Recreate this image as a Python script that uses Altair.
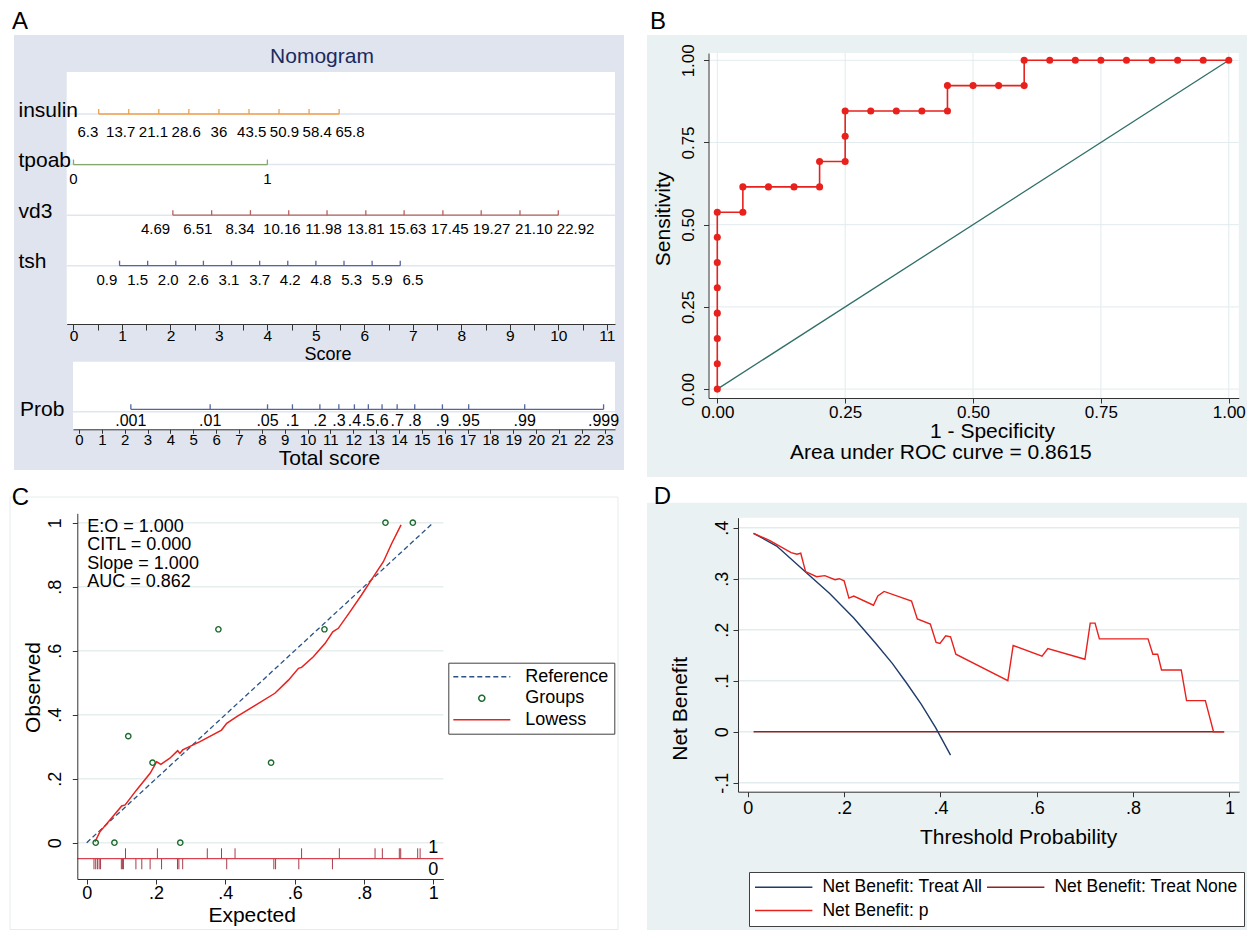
import altair as alt
import pandas as pd

FONT = "Liberation Sans"

# ---------------- Panel A : nomogram ----------------
nomo_vars = ["insulin", "tpoab", "vd3", "tsh"]
insulin_labels = ["6.3", "13.7", "21.1", "28.6", "36", "43.5", "50.9", "58.4", "65.8"]
insulin_points = [0.52, 1.14, 1.76, 2.38, 3.00, 3.62, 4.24, 4.86, 5.48]
tpoab_labels = ["0", "1"]
tpoab_points = [0.0, 4.0]
vd3_labels = ["4.69", "6.51", "8.34", "10.16", "11.98", "13.81", "15.63", "17.45", "19.27", "21.10", "22.92"]
vd3_points = [2.05, 2.85, 3.65, 4.44, 5.23, 6.03, 6.82, 7.62, 8.41, 9.21, 10.0]
tsh_labels = ["0.9", "1.5", "2.0", "2.6", "3.1", "3.7", "4.2", "4.8", "5.3", "5.9", "6.5"]
tsh_points = [0.95, 1.53, 2.11, 2.68, 3.26, 3.84, 4.42, 5.00, 5.58, 6.16, 6.74]
score_ticks = list(range(0, 12))
score_tick_labels = [str(v) for v in score_ticks]
prob_labels = [".001", ".01", ".05", ".1", ".2", ".3", ".4", ".5", ".6", ".7", ".8", ".9", ".95", ".99", ".999"]
prob_points = [2.27, 5.74, 8.25, 9.34, 10.54, 11.37, 12.05, 12.66, 13.26, 13.92, 14.69, 15.90, 17.05, 19.50, 22.95]
total_ticks = list(range(0, 24))
total_tick_labels = [str(v) for v in total_ticks]

# ---------------- Panel B : ROC ----------------
roc_fpr = [0, 0, 0, 0, 0, 0, 0, 0, 0.05, 0.05, 0.10, 0.15, 0.20, 0.20, 0.25, 0.25, 0.25,
           0.30, 0.35, 0.40, 0.45, 0.45, 0.50, 0.55, 0.60, 0.60, 0.65, 0.70, 0.75, 0.80,
           0.85, 0.90, 0.95, 1.00]
roc_tpr = [0, 0.077, 0.154, 0.231, 0.308, 0.385, 0.462, 0.538, 0.538, 0.615, 0.615, 0.615,
           0.615, 0.692, 0.692, 0.769, 0.846, 0.846, 0.846, 0.846, 0.846, 0.923, 0.923, 0.923,
           0.923, 1, 1, 1, 1, 1, 1, 1, 1, 1]
roc_ticks = [0, 0.25, 0.5, 0.75, 1.0]
roc_tick_labels = ["0.00", "0.25", "0.50", "0.75", "1.00"]
roc_auc_text = "Area under ROC curve = 0.8615"

# ---------------- Panel C : calibration ----------------
calib_stats = ["E:O = 1.000", "CITL = 0.000", "Slope = 1.000", "AUC = 0.862"]
group_exp = [0.026, 0.080, 0.120, 0.190, 0.270, 0.380, 0.532, 0.686, 0.862, 0.941]
group_obs = [0.0, 0.0, 0.333, 0.25, 0.0, 0.667, 0.25, 0.667, 1.0, 1.0]
lowess_exp = [0.024, 0.038, 0.067, 0.101, 0.111, 0.144, 0.183, 0.202, 0.214, 0.240, 0.2625,
              0.269, 0.277, 0.327, 0.389, 0.404, 0.433, 0.543, 0.582, 0.611, 0.620, 0.654,
              0.688, 0.710, 0.726, 0.760, 0.793, 0.827, 0.856, 0.880, 0.907]
lowess_obs = [0.003, 0.034, 0.071, 0.115, 0.118, 0.165, 0.217, 0.253, 0.245, 0.264, 0.2875,
              0.279, 0.290, 0.316, 0.352, 0.373, 0.394, 0.467, 0.508, 0.545, 0.548, 0.581,
              0.623, 0.659, 0.670, 0.722, 0.774, 0.831, 0.878, 0.935, 0.993]
rug_events = [0.112, 0.204, 0.348, 0.389, 0.428, 0.620, 0.729, 0.832, 0.853, 0.902, 0.906,
              0.955, 0.962]
rug_nonevents = [0.021, 0.026, 0.031, 0.036, 0.040, 0.100, 0.103, 0.106, 0.142, 0.159, 0.183,
                 0.216, 0.262, 0.266, 0.277, 0.404, 0.540, 0.545, 0.612, 0.709]
calib_ticks = [0, 0.2, 0.4, 0.6, 0.8, 1.0]
calib_tick_labels = ["0", ".2", ".4", ".6", ".8", "1"]
calib_series = ["Reference", "Groups", "Lowess"]

# ---------------- Panel D : decision curve ----------------
all_thr = [0.012, 0.06, 0.12, 0.17, 0.22, 0.265, 0.30, 0.33, 0.36, 0.39, 0.421]
all_nb = [0.389, 0.364, 0.313, 0.271, 0.223, 0.174, 0.134, 0.095, 0.054, 0.008, -0.046]
none_thr = [0.012, 0.989]
none_nb = [0.0, 0.0]
p_thr = [0.012, 0.045, 0.090, 0.102, 0.110, 0.120, 0.143, 0.160, 0.181, 0.190, 0.200, 0.210,
         0.220, 0.261, 0.270, 0.283, 0.340, 0.352, 0.379, 0.391, 0.399, 0.411, 0.421, 0.432,
         0.540, 0.551, 0.611, 0.623, 0.700, 0.711, 0.721, 0.730, 0.831, 0.841, 0.851, 0.859,
         0.900, 0.911, 0.950, 0.967, 0.989]
p_nb = [0.389, 0.375, 0.351, 0.348, 0.350, 0.314, 0.304, 0.306, 0.298, 0.300, 0.296, 0.262,
        0.266, 0.248, 0.266, 0.275, 0.256, 0.221, 0.211, 0.175, 0.173, 0.188, 0.186, 0.152,
        0.100, 0.169, 0.148, 0.163, 0.142, 0.213, 0.213, 0.182, 0.182, 0.152, 0.152, 0.121,
        0.121, 0.061, 0.061, 0.0, 0.0]
dca_series = ["Net Benefit: Treat All", "Net Benefit: Treat None", "Net Benefit: p"]
dca_xticks = [0, 0.2, 0.4, 0.6, 0.8, 1.0]
dca_xtick_labels = ["0", ".2", ".4", ".6", ".8", "1"]
dca_yticks = [-0.1, 0, 0.1, 0.2, 0.3, 0.4]
dca_ytick_labels = ["-.1", "0", ".1", ".2", ".3", ".4"]

# ---------------- styles ----------------
BG_A = "#dfe4ee"
BG_B = "#e9f1f2"
GRID_A = "#e0e5ee"
GRID_B = "#e2ebee"
AXC = "#333333"
RED = "#e8211d"
NOMO_COLORS = ["#f0a04b", "#86a66e", "#b5625e", "#56649f"]
PROB_C = "#56649a"
TEAL = "#2f6f68"
NAVY = "#2b5185"
GREEN = "#1e6b30"
RUG_TICK = "#a83b4a"
RUG_LINE = "#d9434f"
ALL_C = "#1f3b6b"
NONE_C = "#8e2424"

one = pd.DataFrame({"k": [0]})


def lab_expr(values, labels):
    e = "''"
    for v, t in reversed(list(zip(values, labels))):
        e = f"abs(datum.value - ({v})) < 0.000001 ? '{t}' : {e}"
    return e


def box(x1, x2, y1, y2, fill, stroke=None):
    if stroke:
        m = alt.Chart(one).mark_rect(fill=fill, stroke=stroke, strokeWidth=1)
    else:
        m = alt.Chart(one).mark_rect(fill=fill)
    return m.encode(x=alt.value(x1), x2=alt.value(x2), y=alt.value(y1), y2=alt.value(y2))


def note(text, x, y, size, align="left", baseline="middle", color="black", **kw):
    return alt.Chart(one).mark_text(text=text, fontSize=size, align=align, baseline=baseline,
                                    color=color, **kw).encode(x=alt.value(x), y=alt.value(y))


def make_axis(orient, offset, values, labels, title, title_size, label_size, title_x, title_y,
              rotate=False, label_pad=2, tick=5):
    kw = dict(orient=orient, offset=offset, values=values, labelExpr=lab_expr(values, labels),
              grid=False, ticks=True, tickSize=tick, tickColor=AXC, tickWidth=1,
              domainColor=AXC, domainWidth=1, labelColor="black", labelFontSize=label_size,
              labelPadding=label_pad, labelFlush=False, labelOverlap=False,
              title=title, titleFontSize=title_size, titleFontWeight="normal", titleColor="black",
              titleX=title_x, titleY=title_y, titleBaseline="middle", titleAlign="center", zindex=1)
    if rotate:
        kw.update(labelAngle=270, labelAlign="center", labelBaseline="bottom", titleAngle=270)
    return alt.Axis(**kw)


# ======================= Panel A =======================
score_map = dict(zip(score_ticks, score_tick_labels))
score_axis_vals = [i * 0.5 for i in range(2 * len(score_ticks) - 1)]
score_axis_labels = [score_map.get(v, "") for v in score_axis_vals]

sc_score = alt.Scale(domain=[-0.14, 11.17], range=[58.7, 607], nice=False, zero=False)
ax_score = make_axis("bottom", -156, score_axis_vals, score_axis_labels, "Score", 18, 15.5,
                     319.6, 30, label_pad=-2, tick=6)
sc_total = alt.Scale(domain=[-0.26, 23.45], range=[65, 607], nice=False, zero=False)
ax_total = make_axis("bottom", -50.7, total_ticks, total_tick_labels, "Total score", 21, 15,
                     321, 29.5, label_pad=-1, tick=4)
sc_rows = alt.Scale(type="point", domain=nomo_vars, range=[106, 257.7], padding=0)
ax_rows = alt.Axis(orient="left", offset=-10, domain=False, ticks=False, tickSize=0,
                   labelAlign="left", labelBaseline="middle", labelPadding=0, labelOffset=-4,
                   labelFontSize=21, labelColor="black", title=None, grid=False, zindex=1)
Yrow = alt.Y("var:N", scale=sc_rows, axis=ax_rows)
col_rows = alt.Color("var:N", scale=alt.Scale(domain=nomo_vars, range=NOMO_COLORS), legend=None)

all_points = [insulin_points, tpoab_points, vd3_points, tsh_points]
all_labels = [insulin_labels, tpoab_labels, vd3_labels, tsh_labels]
tick_rows = []
for v, pts, labs in zip(nomo_vars, all_points, all_labels):
    for p, l in zip(pts, labs):
        tick_rows.append({"var": v, "score": p, "label": l})
ticks_df = pd.DataFrame(tick_rows)
lines_df = pd.DataFrame({"var": nomo_vars, "lo": [p[0] for p in all_points],
                         "hi": [p[-1] for p in all_points]})

nomo_grid = alt.Chart(pd.DataFrame({"var": nomo_vars})).mark_rule(
    color=GRID_A, strokeWidth=1.5).encode(y=Yrow, x=alt.value(58.7), x2=alt.value(607))
nomo_lines = alt.Chart(lines_df).mark_rule(strokeWidth=1.3).encode(
    x=alt.X("lo:Q", scale=sc_score, axis=ax_score), x2="hi:Q", y=Yrow, color=col_rows)
nomo_ticks = alt.Chart(ticks_df).mark_tick(size=5, thickness=1.3, yOffset=-2.5, opacity=1).encode(
    x=alt.X("score:Q", scale=sc_score, axis=ax_score), y=Yrow, color=col_rows)


def nomo_value_labels(filter_expr, dy):
    # value labels are spread a little wider than their ticks (as in the Stata nomogram)
    return alt.Chart(ticks_df).transform_joinaggregate(
        lo="min(score)", hi="max(score)", n="count()", groupby=["var"]
    ).transform_filter(filter_expr).transform_calculate(
        lx="(datum.lo + datum.hi) / 2 + (datum.score - (datum.lo + datum.hi) / 2) * (datum.n > 2 ? 1.09 : 1.0)"
    ).mark_text(fontSize=15, dy=dy, color="black").encode(
        x=alt.X("lx:Q", scale=sc_score, axis=ax_score), y=Yrow, text="label:N")


nomo = alt.layer(nomo_grid, nomo_lines, nomo_ticks,
                 nomo_value_labels("datum.var == 'insulin'", 18),
                 nomo_value_labels("datum.var != 'insulin'", 14))

prob_df = pd.DataFrame({"pos": prob_points, "lab": prob_labels})
prob_range = pd.DataFrame({"lo": [prob_points[0]], "hi": [prob_points[-1]]})
prob_grid = alt.Chart(one).mark_rule(color=GRID_A, strokeWidth=1.5).encode(
    x=alt.value(65), x2=alt.value(607), y=alt.value(403.7))
prob_line = alt.Chart(prob_range).mark_rule(color=PROB_C, strokeWidth=1.3).encode(
    x=alt.X("lo:Q", scale=sc_total, axis=ax_total), x2="hi:Q", y=alt.value(401.3))
prob_ticks = alt.Chart(prob_df).mark_tick(size=5, thickness=1.3, color=PROB_C, opacity=1).encode(
    x=alt.X("pos:Q", scale=sc_total, axis=ax_total), y=alt.value(398.8))
prob_text = alt.Chart(prob_df).mark_text(fontSize=16, color="black").encode(
    x=alt.X("pos:Q", scale=sc_total, axis=ax_total), y=alt.value(412.7), text="lab:N")
prob = alt.layer(prob_grid, prob_line, prob_ticks, prob_text)

panelA = alt.layer(
    box(6, 616, 27, 462, BG_A),
    box(58.7, 607, 64, 316, "white"),
    box(65, 607, 353.7, 421.3, "white"),
    note("Nomogram", 314, 49, 21, align="center", color="#1b2a5e"),
    note("A", 4, 13.5, 24),
    note("Prob", 12, 402, 21),
    nomo,
    prob,
).resolve_scale(x="independent").properties(width=628, height=472)

# ======================= Panel B =======================
sc_xB = alt.Scale(domain=[-0.0172, 1.0196], range=[72.5, 602.8], nice=False, zero=False)
sc_yB = alt.Scale(domain=[-0.0271, 1.0222], range=[390, 45], nice=False, zero=False)
ax_xB = make_axis("bottom", -82, roc_ticks, roc_tick_labels, "1 - Specificity", 21, 17,
                  356, 33.7, label_pad=1)
ax_yB = make_axis("left", -72.5, roc_ticks, roc_tick_labels, "Sensitivity", 21, 17,
                  -45.5, 210.4, rotate=True, label_pad=6)
XB = alt.X("x:Q", scale=sc_xB, axis=ax_xB)
YB = alt.Y("y:Q", scale=sc_yB, axis=ax_yB)

roc_df = pd.DataFrame({"x": roc_fpr, "y": roc_tpr, "i": list(range(len(roc_fpr)))})
panelB = alt.layer(
    box(11, 611, 27, 469, BG_B),
    box(72.5, 602.8, 45, 390, "white"),
    alt.Chart(pd.DataFrame({"x": roc_ticks})).mark_rule(color=GRID_B, strokeWidth=1).encode(
        x=XB, y=alt.value(45), y2=alt.value(390)),
    alt.Chart(pd.DataFrame({"y": roc_ticks})).mark_rule(color=GRID_B, strokeWidth=1).encode(
        y=YB, x=alt.value(72.5), x2=alt.value(602.8)),
    alt.Chart(pd.DataFrame({"x": [0, 1], "y": [0, 1]})).mark_line(
        color=TEAL, strokeWidth=1.3).encode(x=XB, y=YB),
    alt.Chart(roc_df).mark_line(color=RED, strokeWidth=1.6).encode(x=XB, y=YB, order="i:Q"),
    alt.Chart(roc_df).mark_point(filled=True, size=50, color=RED, opacity=1).encode(x=XB, y=YB),
    note(roc_auc_text, 304.9, 445.3, 21, align="center"),
    note("B", 14, 13.5, 24),
).properties(width=611, height=472)

# ======================= Panel C =======================
sc_xC = alt.Scale(domain=[-0.0271, 1.0289], range=[69.3, 435.3], nice=False, zero=False)
sc_yC = alt.Scale(domain=[-0.1134, 1.0294], range=[399, 33.3], nice=False, zero=False)
ax_xC = make_axis("bottom", -51, calib_ticks, calib_tick_labels, "Expected", 21, 18,
                  243.7, 36, label_pad=0)
ax_yC = make_axis("left", -69.3, calib_ticks, calib_tick_labels, "Observed", 21, 18,
                  -44, 207, rotate=True, label_pad=8)
XC = alt.X("x:Q", scale=sc_xC, axis=ax_xC)
YC = alt.Y("y:Q", scale=sc_yC, axis=ax_yC)


def yC_at(v):
    return alt.YDatum(v, scale=sc_yC, axis=ax_yC)


LINE_C = "M-4.07,0H4.07"
CIRC = "M-0.43,0A0.43,0.43,0,1,0,0.43,0A0.43,0.43,0,1,0,-0.43,0Z"
legC = alt.Legend(title=None, orient="none", legendX=440.3, legendY=182.7, direction="vertical",
                  symbolSize=196, symbolStrokeWidth=1.5, symbolOffset=19.5, labelOffset=34.5,
                  symbolFillColor="transparent", labelFontSize=18, labelColor="black",
                  labelLimit=400, padding=5, rowPadding=3.5, fillColor="white",
                  strokeColor="#404040", zindex=1)
legend_C = alt.Chart(pd.DataFrame({"series": calib_series})).transform_filter("false").mark_point(
    filled=False, opacity=1, strokeWidth=1.5, size=196).encode(
    color=alt.Color("series:N", scale=alt.Scale(domain=calib_series, range=[NAVY, GREEN, RED]),
                    legend=legC),
    shape=alt.Shape("series:N", scale=alt.Scale(domain=calib_series, range=[LINE_C, CIRC, LINE_C]),
                    legend=legC),
    strokeDash=alt.StrokeDash("series:N", scale=alt.Scale(domain=calib_series,
                                                          range=[[5, 3], [1, 0], [1, 0]]),
                              legend=legC),
)

lowess_df = pd.DataFrame({"x": lowess_exp, "y": lowess_obs, "i": list(range(len(lowess_exp)))})
panelC = alt.layer(
    box(2, 610, 17, 449.5, "white", stroke="#e6ecec"),
    alt.Chart(pd.DataFrame({"y": calib_ticks})).mark_rule(color="#e6eeee", strokeWidth=1.5).encode(
        y=YC, x=alt.value(69.3), x2=alt.value(435.3)),
    alt.Chart(pd.DataFrame({"x": [0, 1], "y": [0, 1]})).mark_line(
        color=NAVY, strokeWidth=1.3, strokeDash=[5, 3]).encode(x=XC, y=YC),
    alt.Chart(lowess_df).mark_line(color=RED, strokeWidth=1.5).encode(x=XC, y=YC, order="i:Q"),
    alt.Chart(pd.DataFrame({"x": group_exp, "y": group_obs})).mark_point(
        shape="circle", filled=False, size=28, strokeWidth=1.4, color=GREEN, opacity=1).encode(
        x=XC, y=YC),
    alt.Chart(one).mark_rule(color=RUG_LINE, strokeWidth=1.3).encode(
        x=alt.value(69.3), x2=alt.value(435.3), y=yC_at(-0.05)),
    alt.Chart(pd.DataFrame({"x": rug_events})).mark_rule(color=RUG_TICK, strokeWidth=1).encode(
        x=XC, y=yC_at(-0.0175), y2=alt.Y2Datum(-0.05)),
    alt.Chart(pd.DataFrame({"x": rug_nonevents})).mark_rule(color=RUG_TICK, strokeWidth=1).encode(
        x=XC, y=yC_at(-0.05), y2=alt.Y2Datum(-0.083)),
    alt.Chart(one).mark_text(text="1", fontSize=18, color="black").encode(
        x=alt.XDatum(1.0, scale=sc_xC, axis=ax_xC), y=yC_at(-0.0175)),
    alt.Chart(one).mark_text(text="0", fontSize=18, color="black").encode(
        x=alt.XDatum(1.0, scale=sc_xC, axis=ax_xC), y=yC_at(-0.085)),
    note(calib_stats, 79.3, 38.3, 18, baseline="top", lineHeight=18.2),
    legend_C,
    note("C", 3.7, 18, 24),
).properties(width=628, height=450)

# ======================= Panel D =======================
sc_xD = alt.Scale(domain=[-0.0203, 1.0203], range=[102, 603.2], nice=False, zero=False)
sc_yD = alt.Scale(domain=[-0.1176, 0.4196], range=[311.7, 37.7], nice=False, zero=False)
ax_xD = make_axis("bottom", -138.3, dca_xticks, dca_xtick_labels, "Threshold Probability", 21, 18,
                  382, 45.6, label_pad=3)
ax_yD = make_axis("left", -102, dca_yticks, dca_ytick_labels, "Net Benefit", 21, 18,
                  -58, 228.3, rotate=True, label_pad=2)
XD = alt.X("x:Q", scale=sc_xD, axis=ax_xD)
YD = alt.Y("y:Q", scale=sc_yD, axis=ax_yD)

LINE_D = "M-4.1,0H4.1"
legD = alt.Legend(title=None, orient="none", legendX=113, legendY=392, columns=2,
                  direction="horizontal",
                  symbolSize=196, symbolStrokeWidth=1.5, symbolOffset=19.95, labelOffset=29.95,
                  symbolFillColor="transparent", labelFontSize=17.5, labelColor="black",
                  labelLimit=400, padding=6, rowPadding=4.8, columnPadding=0,
                  fillColor="white", strokeColor="#404040", zindex=1)
legend_D = alt.Chart(pd.DataFrame({"series": dca_series})).transform_filter("false").mark_point(
    filled=False, opacity=1, strokeWidth=1.5, size=196).encode(
    color=alt.Color("series:N", scale=alt.Scale(domain=dca_series, range=[ALL_C, NONE_C, RED]),
                    legend=legD),
    shape=alt.Shape("series:N", scale=alt.Scale(domain=dca_series, range=[LINE_D, LINE_D, LINE_D]),
                    legend=legD),
)

panelD = alt.layer(
    box(11, 611, 22.7, 450, BG_B),
    box(102, 603.2, 37.7, 311.7, "white"),
    alt.Chart(pd.DataFrame({"y": dca_yticks})).mark_rule(color=GRID_B, strokeWidth=1.5).encode(
        y=YD, x=alt.value(102), x2=alt.value(603.2)),
    alt.Chart(pd.DataFrame({"x": none_thr, "y": none_nb})).mark_line(
        color=NONE_C, strokeWidth=1.4).encode(x=XD, y=YD),
    alt.Chart(pd.DataFrame({"x": all_thr, "y": all_nb})).mark_line(
        color=ALL_C, strokeWidth=1.4).encode(x=XD, y=YD),
    alt.Chart(pd.DataFrame({"x": p_thr, "y": p_nb, "i": list(range(len(p_thr)))})).mark_line(
        color=RED, strokeWidth=1.4).encode(x=XD, y=YD, order="i:Q"),
    legend_D,
    note("D", 17.7, 17.3, 24),
).properties(width=611, height=450)

chart = alt.concat(
    panelA, panelB, panelC, panelD, columns=2, spacing=0, bounds="flush", align="each"
).resolve_scale(
    color="independent", shape="independent", strokeDash="independent"
).properties(padding=0).configure(font=FONT).configure_view(strokeWidth=0)

chart.save("out.html", embed_options={"renderer": "svg", "actions": False})
